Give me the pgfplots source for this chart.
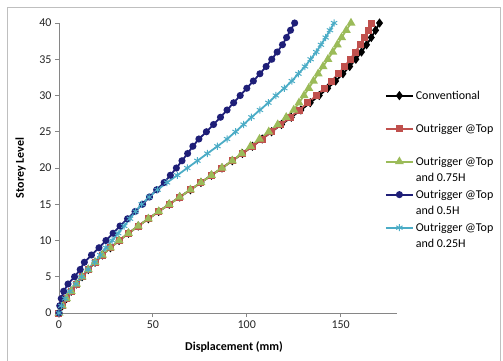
\documentclass[border=0pt]{standalone}
\usepackage{fontspec}
\setmainfont{Carlito}
\usepackage{pgfplots}
\usepackage{pgfplotstable}
\pgfplotsset{compat=1.18}
\definecolor{cConv}{RGB}{0,0,0}
\definecolor{cRed}{RGB}{192,80,77}
\definecolor{cGreen}{RGB}{155,187,89}
\definecolor{cNavy}{RGB}{31,31,120}
\definecolor{cCyan}{RGB}{75,172,198}
\definecolor{cAxis}{RGB}{134,134,134}

\pgfplotstableread{
y conv red green navy cyan
0 0 0 0 0 0
1 1.8 1.8 1.8 0.4 1.2
2 4.0 4.0 4.0 1.2 3.2
3 6.5 6.5 6.5 2.5 5.8
4 9.3 9.3 9.3 4.8 9.0
5 12.3 12.3 12.3 8.3 12.0
6 15.6 15.6 15.6 11.3 15.5
7 19.2 19.2 19.2 13.5 19.0
8 23.1 23.1 23.1 17.3 22.0
9 27.4 27.4 27.4 21.3 25.0
10 32.0 32.0 32.0 25.0 28.3
11 37.0 37.0 37.0 28.8 31.5
12 42.2 42.2 42.2 32.5 34.7
13 47.6 47.6 47.6 36.5 37.8
14 53.1 53.1 53.1 40.5 40.8
15 58.7 58.7 58.7 44.5 44.0
16 64.3 64.3 64.3 48.2 48.0
17 70.0 70.0 70.0 52.0 52.5
18 75.6 75.6 75.6 56.0 57.5
19 81.2 81.2 81.2 59.3 63.0
20 86.8 86.8 86.8 62.5 68.3
21 92.3 92.3 92.3 65.5 73.7
22 97.7 97.7 97.3 68.5 79.0
23 103.0 103.0 102.0 71.3 84.4
24 108.2 108.2 106.8 74.5 89.5
25 113.2 113.2 111.7 78.5 94.0
26 118.5 118.2 116.5 82.3 98.3
27 123.7 123.1 121.0 86.0 102.5
28 128.8 127.9 125.0 89.5 107.0
29 133.8 132.6 127.8 93.0 111.5
30 138.6 137.1 130.5 96.5 115.5
31 143.1 141.3 133.0 100.0 120.0
32 147.3 145.2 135.5 103.5 124.0
33 151.2 148.8 138.0 107.0 127.5
34 154.8 152.1 140.6 110.3 131.0
35 158.1 155.1 143.2 113.3 134.0
36 161.1 157.8 145.8 116.2 137.0
37 163.8 160.3 148.2 119.0 139.5
38 166.3 162.6 150.5 121.2 142.0
39 168.6 164.7 153.0 123.3 144.3
40 170.7 166.5 155.5 125.5 146.5
}\datatable

\pgfplotsset{
  sConv/.style={cConv, line width=1.8pt, mark=diamond*, mark size=3.2pt, mark options={solid, fill=cConv}},
  sRed/.style={cRed, line width=1.8pt, mark=square*, mark size=2.6pt, mark options={solid, fill=cRed}},
  sGreen/.style={cGreen, line width=1.8pt, mark=triangle*, mark size=3.4pt, mark options={solid, fill=cGreen}},
  sNavy/.style={cNavy, line width=1.8pt, mark=*, mark size=2.6pt, mark options={solid, fill=cNavy}},
  sCyan/.style={cCyan, line width=1.8pt, mark=asterisk, mark size=3.6pt, mark options={solid, line width=1pt}},
}

\begin{document}
\begin{tikzpicture}[x=1pt,y=1pt]
\useasboundingbox (0,0) rectangle (503,360);
\draw[color=black!25, line width=0.8pt] (7,-2) -- (7,352.5) -- (500,352.5) -- (500,-2);
\begin{axis}[
  at={(59pt,47pt)}, anchor=south west,
  scale only axis, width=338pt, height=290pt,
  xmin=0, xmax=180, ymin=0, ymax=40,
  axis x line*=bottom, axis y line*=left,
  axis line style={cAxis, line width=0.8pt},
  tick style={cAxis, line width=0.8pt},
  tick align=outside, major tick length=4pt,
  xtick={0,50,100,150}, ytick={0,5,...,40},
  /pgf/number format/assume math mode=true,
  ticklabel style={font=\fontsize{12}{14}\selectfont, text=black!85},
  xlabel={\textbf{Displacement (mm)}},
  ylabel={\textbf{Storey Level}},
  label style={font=\fontsize{12}{14}\selectfont},
  xlabel style={at={(axis description cs:0.518,-0.1276)}, anchor=base},
  ylabel style={at={(axis description cs:-0.1036,0.5)}, anchor=base},
  clip=false,
  legend style={draw=none, fill=none, at={(axis description cs:0.9645,0.764)}, anchor=north west,
    inner sep=0pt, outer sep=0pt, row sep=5.5pt, column sep=1pt,
    font=\fontsize{12}{14}\selectfont,
    nodes={text height=8pt, text depth=3pt, inner sep=0pt, inner xsep=1pt},
    cells={anchor=base west}},
  legend image code/.code={\draw[mark repeat=2,mark phase=2,#1, yshift=3.8pt] plot coordinates {(0pt,0pt) (13.5pt,0pt) (27pt,0pt)};},
]
\addplot[sConv, forget plot] table[x=conv,y=y] {\datatable};
\addplot[sRed, forget plot] table[x=red,y=y] {\datatable};
\addplot[sGreen, forget plot] table[x=green,y=y] {\datatable};
\addplot[sNavy, forget plot] table[x=navy,y=y] {\datatable};
\addplot[sCyan, forget plot] table[x=cyan,y=y] {\datatable};

\addlegendimage{sConv}\addlegendentry{Conventional}
\addlegendimage{empty legend}\addlegendentry{}
\addlegendimage{sRed}\addlegendentry{Outrigger @Top}
\addlegendimage{empty legend}\addlegendentry{}
\addlegendimage{sGreen}\addlegendentry{Outrigger @Top}
\addlegendimage{empty legend}\addlegendentry{and 0.75H}
\addlegendimage{sNavy}\addlegendentry{Outrigger @Top}
\addlegendimage{empty legend}\addlegendentry{and 0.5H}
\addlegendimage{sCyan}\addlegendentry{Outrigger @Top}
\addlegendimage{empty legend}\addlegendentry{and 0.25H}
\end{axis}
\end{tikzpicture}
\end{document}
